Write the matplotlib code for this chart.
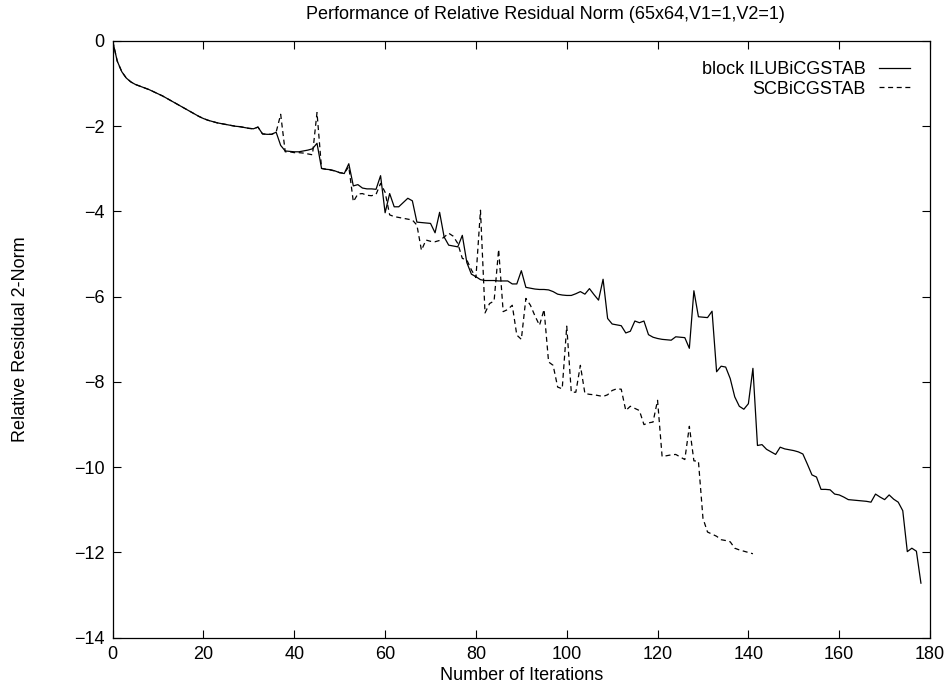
import matplotlib
matplotlib.use("Agg")
import matplotlib.pyplot as plt

plt.rcParams['font.family'] = ['Liberation Sans', 'DejaVu Sans']
plt.rcParams['lines.scale_dashes'] = False

# ---- data ----
ilu_iter = list(range(0, 179))
ilu_norm = [
    0.00, -0.47, -0.72, -0.87, -0.96, -1.02, -1.06, -1.10, -1.14, -1.19,
    -1.24, -1.29, -1.35, -1.41, -1.47, -1.53, -1.59, -1.65, -1.71, -1.77,
    -1.82, -1.86, -1.89, -1.92, -1.94, -1.96, -1.98, -2.00, -2.01, -2.03,
    -2.05, -2.06, -2.02, -2.18, -2.19, -2.19, -2.14, -2.45, -2.58, -2.59,
    -2.60, -2.60, -2.58, -2.56, -2.53, -2.40, -2.99, -3.01, -3.02, -3.05,
    -3.09, -3.11, -2.88, -3.40, -3.37, -3.45, -3.47, -3.47, -3.48, -3.16,
    -4.03, -3.58, -3.89, -3.89, -3.79, -3.69, -3.75, -4.25, -4.26, -4.27,
    -4.28, -4.50, -4.02, -4.60, -4.79, -4.81, -4.83, -4.56, -5.20, -5.47,
    -5.53, -5.60, -5.62, -5.62, -5.62, -5.63, -5.63, -5.63, -5.70, -5.70,
    -5.39, -5.78, -5.80, -5.82, -5.83, -5.83, -5.84, -5.88, -5.94, -5.96,
    -5.97, -5.97, -5.93, -5.88, -5.94, -5.81, -5.95, -6.08, -5.59, -6.51,
    -6.64, -6.66, -6.68, -6.85, -6.81, -6.57, -6.61, -6.57, -6.89, -6.95,
    -6.98, -7.00, -7.01, -7.02, -6.94, -6.95, -6.96, -7.21, -5.86, -6.47,
    -6.48, -6.49, -6.34, -7.76, -7.63, -7.65, -7.92, -8.35, -8.57, -8.64,
    -8.51, -7.68, -9.49, -9.47, -9.58, -9.64, -9.70, -9.53, -9.57, -9.59,
    -9.61, -9.64, -9.69, -9.93, -10.18, -10.23, -10.52, -10.52, -10.53, -10.63,
    -10.65, -10.70, -10.76, -10.77, -10.78, -10.79, -10.80, -10.82, -10.63, -10.70,
    -10.76, -10.65, -10.75, -10.82, -11.02, -11.98, -11.90, -11.97, -12.72,
]

sc_iter = list(range(0, 142))
sc_norm = ilu_norm[:37] + [
    -1.72, -2.60, -2.60, -2.62, -2.62, -2.63, -2.65, -2.67, -1.68, -2.99,  # 37-46
    -3.01, -3.03, -3.05, -3.09, -3.10, -2.95, -3.77, -3.59, -3.58, -3.62,  # 47-56
    -3.63, -3.60, -3.34, -3.55, -4.08, -4.12, -4.14, -4.16, -4.18, -4.20,  # 57-66
    -4.32, -4.91, -4.67, -4.70, -4.71, -4.68, -4.60, -4.51, -4.58, -4.75,  # 67-76
    -5.10, -5.14, -5.37, -5.55, -3.97, -6.38, -6.16, -6.10, -4.89, -6.35,  # 77-86
    -6.30, -6.20, -6.90, -7.00, -6.04, -6.20, -6.45, -6.67, -6.30, -7.53,  # 87-96
    -7.61, -8.12, -8.16, -6.69, -8.24, -8.24, -7.61, -8.27, -8.29, -8.30,  # 97-106
    -8.32, -8.34, -8.30, -8.20, -8.16, -8.17, -8.67, -8.57, -8.62, -8.67,  # 107-116
    -9.00, -8.96, -8.94, -8.43, -9.75, -9.73, -9.71, -9.70, -9.76, -9.82,  # 117-126
    -9.04, -9.85, -9.86, -11.20, -11.52, -11.57, -11.62, -11.70, -11.72, -11.75,  # 127-136
    -11.90, -11.94, -11.97, -12.00, -12.03,  # 137-141
]

labels = ["block ILUBiCGSTAB", "SCBiCGSTAB"]
title = "Performance of Relative Residual Norm (65x64,V1=1,V2=1)"
xlabel = "Number of Iterations"
ylabel = "Relative Residual 2-Norm"
xticks = list(range(0, 181, 20))
yticks = list(range(-14, 1, 2))

# ---- figure ----
fig = plt.figure(figsize=(9.46, 6.83), dpi=100)
ax = fig.add_axes([0.1191, 0.0663, 0.9831 - 0.1191, 0.94 - 0.0663])

fs = 13
ax.plot(ilu_iter, ilu_norm, color='black', lw=0.9, label=labels[0])
ax.plot(sc_iter, sc_norm, color='black', lw=0.9, dashes=(3.6, 2.6), label=labels[1])

ax.set_xlim(0, 180)
ax.set_ylim(-14, 0)
ax.set_xticks(xticks)
ax.set_yticks(yticks)
ax.tick_params(direction='in', top=True, right=True, length=6, width=0.8,
               labelsize=fs, pad=6)
for s in ax.spines.values():
    s.set_linewidth(0.9)

ax.set_xlabel(xlabel, fontsize=fs, labelpad=3)
ax.set_ylabel(ylabel, fontsize=fs, labelpad=32)
fig.text(0.577, 0.979, title, fontsize=fs, ha='center', va='center')

leg = ax.legend(loc='upper right', frameon=False, fontsize=fs,
                markerfirst=False, handlelength=1.75, handletextpad=0.7,
                labelspacing=0.15, borderaxespad=0.7)
leg._legend_box.align = "right"

fig.savefig("out.png", dpi=100)
